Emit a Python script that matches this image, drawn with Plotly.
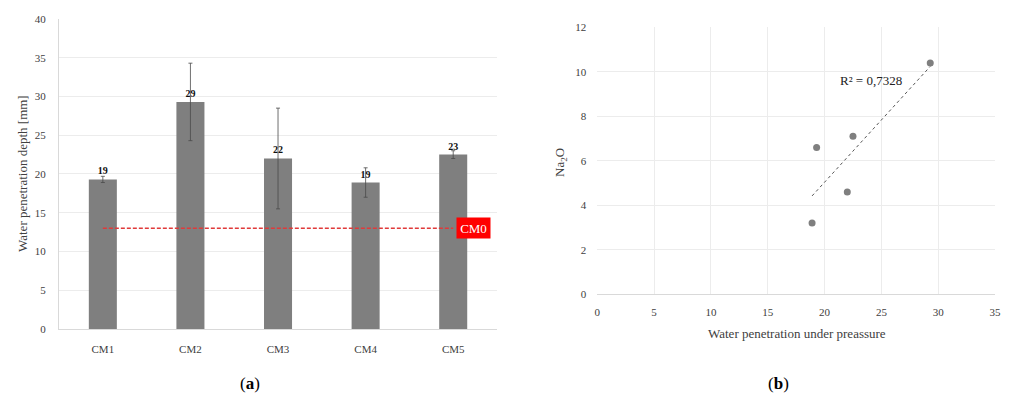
import numpy as np
import plotly.graph_objects as go

# (a) water penetration depth per mix
mixes = ["CM1", "CM2", "CM3", "CM4", "CM5"]
depth_mm = [19.3, 29.3, 22.0, 18.9, 22.5]
depth_err = [0.4, 5.0, 6.5, 1.9, 0.5]
depth_labels = ["19", "29", "22", "19", "23"]
reference_cm0 = 13.0

# (b) Na2O content against water penetration
penetration = [19.3, 29.3, 22.0, 18.9, 22.5]
na2o = [6.6, 10.4, 4.6, 3.2, 7.1]
r2_text = "R² = 0,7328"

FONT = "Liberation Serif"
GRID = "#ececec"
AXIS = "#d9d9d9"
BAR = "#7f7f7f"
TXT = "#404040"

fig = go.Figure()

fig.add_trace(go.Bar(
    x=mixes, y=depth_mm, width=0.32,
    marker=dict(color=BAR, line=dict(width=0)),
    error_y=dict(type="data", array=depth_err, visible=True,
                 color="#4a4a4a", thickness=0.8, width=2),
    text=depth_labels, textposition="outside", cliponaxis=False,
    textfont=dict(family=FONT, size=10, color="#111111", weight="bold"),
    xaxis="x", yaxis="y", showlegend=False,
))

fig.add_trace(go.Scatter(
    x=mixes, y=[reference_cm0] * len(mixes), mode="lines",
    line=dict(color="#e03a3a", width=1.5, dash="4px,2px"),
    xaxis="x", yaxis="y", showlegend=False,
))

# scatter with linear trend line
coef = np.polyfit(penetration, na2o, 1)
trend_x = np.array([min(penetration), max(penetration)])
trend_y = np.polyval(coef, trend_x)

fig.add_trace(go.Scatter(
    x=trend_x, y=trend_y, mode="lines",
    line=dict(color="#555555", width=1, dash="dot"),
    xaxis="x2", yaxis="y2", showlegend=False,
))
fig.add_trace(go.Scatter(
    x=penetration, y=na2o, mode="markers",
    marker=dict(color=BAR, size=7),
    xaxis="x2", yaxis="y2", showlegend=False,
))

tick_font = dict(family=FONT, size=11, color=TXT)


def paper_text(text, px, py, size, color=TXT, angle=0):
    return dict(text=text, xref="paper", yref="paper",
                x=px / 1011, y=1 - py / 401, xanchor="center", yanchor="middle",
                textangle=angle, showarrow=False,
                font=dict(family=FONT, size=size, color=color))


annotations = [
    dict(x=mixes[-1], y=reference_cm0, xref="x", yref="y",
         text="CM0", showarrow=False, xanchor="left", yanchor="middle", xshift=3,
         bgcolor="#ff0000", font=dict(family=FONT, size=13, color="white"),
         borderpad=2, width=29, height=16),
    dict(x=24.1, y=9.63, xref="x2", yref="y2", text=r2_text, showarrow=False,
         xanchor="center", yanchor="middle",
         font=dict(family=FONT, size=13, color="#222222")),
    paper_text("Water penetration depth [mm]", 22, 174, 13, angle=-90),
    paper_text("Na<sub>2</sub>O", 560, 163, 13, angle=-90),
    paper_text("Water penetration under preassure", 797, 333, 13),
    paper_text("(<b>a</b>)", 250, 383, 17, color="black"),
    paper_text("(<b>b</b>)", 778, 383, 17, color="black"),
]

fig.update_layout(
    width=1011, height=401,
    margin=dict(l=0, r=0, t=0, b=0, autoexpand=False),
    paper_bgcolor="white", plot_bgcolor="white",
    xaxis=dict(domain=[0.0584, 0.4916], tickfont=tick_font, showgrid=False,
               showline=True, linecolor=AXIS, linewidth=1, ticks="",
               ticklabelstandoff=10, automargin=False),
    yaxis=dict(domain=[0.1796, 0.9526], range=[0, 40], dtick=5,
               tickfont=tick_font, gridcolor=GRID, showline=True,
               linecolor=AXIS, zeroline=False, ticks="",
               ticklabelstandoff=10, automargin=False),
    xaxis2=dict(domain=[0.5908, 0.9842], range=[0, 35], dtick=5,
                tickfont=tick_font, gridcolor=GRID, zeroline=False,
                showline=False, ticks="", anchor="y2",
                ticklabelstandoff=10, automargin=False),
    yaxis2=dict(domain=[0.2661, 0.9319], range=[0, 12], dtick=2,
                tickfont=tick_font, gridcolor=GRID, zeroline=True,
                zerolinecolor=AXIS, zerolinewidth=1, showline=False,
                ticks="", anchor="x2", ticklabelstandoff=10, automargin=False),
    annotations=annotations,
)

fig.write_html("out.html")
